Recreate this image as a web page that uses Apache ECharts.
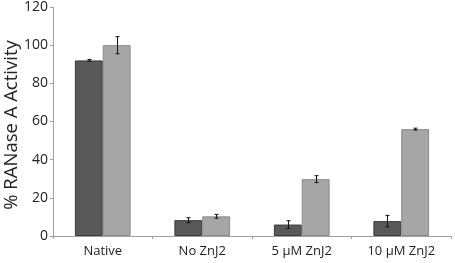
<!DOCTYPE html>
<html><head><meta charset="utf-8">
<script src="https://cdn.jsdelivr.net/npm/echarts@6/dist/echarts.min.js"></script>
<style>html,body{margin:0;padding:0;background:#fff}#c{width:455px;height:263px}</style>
</head><body><div id="c"></div>
<script>
const categories = ['Native', 'No ZnJ2', '5 \u00b5M ZnJ2', '10 \u00b5M ZnJ2'];
const darkValues = [92, 8.3, 6, 7.8];
const darkErrors = [0.5, 1.3, 2, 3];
const lightValues = [100, 10.3, 29.8, 56];
const lightErrors = [4.5, 1, 1.8, 0.5];
const yTicks = { min: 0, max: 120, interval: 20 };
const yTitle = '% RANase A Activity';

const CAT_GAP = 0.44;
function errSeries(vals, errs, side) {
  return {
    type: 'custom',
    z: 10,
    data: vals.map((v, i) => [i, v - errs[i], v + errs[i]]),
    renderItem: function (params, api) {
      const band = api.size([1, 0])[0];
      const bw = band * (1 - CAT_GAP) / 2;
      const lo = api.coord([api.value(0), api.value(1)]);
      const hi = api.coord([api.value(0), api.value(2)]);
      const x = Math.round(lo[0] + side * bw / 2) + 0.5;
      const cap = 2;
      const st = { stroke: '#111', lineWidth: 1 };
      return { type: 'group', children: [
        { type: 'line', shape: { x1: x, y1: lo[1], x2: x, y2: hi[1] }, style: st },
        { type: 'line', shape: { x1: x - cap, y1: hi[1], x2: x + cap, y2: hi[1] }, style: st },
        { type: 'line', shape: { x1: x - cap, y1: lo[1], x2: x + cap, y2: lo[1] }, style: st }
      ]};
    }
  };
}

const chart = echarts.init(document.getElementById('c'), null, { renderer: 'canvas' });
chart.setOption({
  animation: false,
  textStyle: { fontFamily: 'Open Sans' },
  grid: { left: 53, right: 4, top: 7, bottom: 27, containLabel: false, outerBoundsMode: 'none' },
  graphic: [{
    type: 'text', x: 12, y: 125, rotation: Math.PI / 2, silent: true,
    style: { text: yTitle, align: 'center', verticalAlign: 'middle',
             fill: '#222', font: '18.5px "Open Sans"' }
  }],
  xAxis: {
    type: 'category', data: categories,
    axisLine: { lineStyle: { color: '#a0a0a0' } },
    axisTick: { show: true, length: 3, lineStyle: { color: '#a0a0a0' } },
    axisLabel: { color: '#222', fontSize: 13, margin: 9, fontFamily: 'Open Sans' }
  },
  yAxis: {
    type: 'value', min: yTicks.min, max: yTicks.max, interval: yTicks.interval,
    axisLine: { show: true, lineStyle: { color: '#a0a0a0' } },
    axisTick: { show: true, length: 3, lineStyle: { color: '#a0a0a0' } },
    axisLabel: { color: '#222', fontSize: 14, margin: 5, fontFamily: 'Open Sans' },
    splitLine: { show: false }
  },
  series: [
    { type: 'bar', data: darkValues, barGap: '0%', barCategoryGap: '44%',
      itemStyle: { color: '#595959', borderColor: '#3a3a3a', borderWidth: 1 } },
    { type: 'bar', data: lightValues,
      itemStyle: { color: '#a6a6a6', borderColor: '#8a8a8a', borderWidth: 1 } },
    errSeries(darkValues, darkErrors, -1),
    errSeries(lightValues, lightErrors, 1)
  ]
});
</script></body></html>
